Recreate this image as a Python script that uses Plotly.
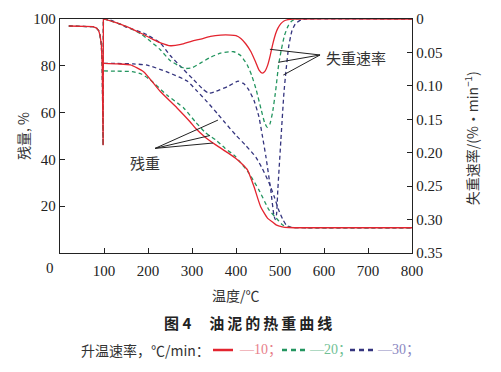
import plotly.graph_objects as go

# ---------------- data ----------------
# shared pre-heating segment (residual mass, %) -- same for all three runs
pre_T = [20, 60, 75, 83, 88, 91, 94, 96, 97.2, 98.0, 98.6]
pre_L = [97, 96.9, 96.7, 96.1, 95, 93, 89, 80, 62, 46, 100]

# residual mass (TG), %
red_tg_T = [99.5, 130, 160, 190, 228, 266, 296, 308, 330, 354, 380, 399, 415, 426,
            441, 456, 472, 483, 491, 505, 520, 560, 650, 800]
red_tg = [81, 80.8, 80.4, 77.5, 69, 62, 56, 53.3, 49.5, 46.2, 43, 40.5, 37.8, 35.5,
          28.3, 19.8, 14.8, 13.2, 12, 11.2, 10.9, 10.8, 10.8, 10.8]

green_tg_T = [99.5, 130, 164, 185, 205, 243, 281, 308, 330, 354, 375, 399, 429, 452,
              475, 491, 506, 520, 560, 800]
green_tg = [77.8, 77.7, 77.5, 76.5, 74, 67.5, 62, 56, 51.5, 48.3, 44.8, 41.2, 34.2, 27,
            18.4, 15, 12, 11, 10.8, 10.8]

blue_tg_T = [99.5, 130, 167, 198, 243, 289, 310, 335, 358, 376, 399, 422, 445, 460,
             475, 487, 497, 506, 514, 525, 560, 800]
blue_tg = [81, 81, 80.8, 80.3, 77.4, 73.5, 69.5, 64.5, 59.5, 55.5, 50.5, 46, 41, 36,
           30, 24, 18.4, 14.5, 12, 11, 10.8, 10.8]

# weight-loss rate (DTG), %/min
red_dtg_T = [99.5, 120, 150, 183, 210, 230, 251, 275, 300, 320, 342, 365, 388, 400, 411,
             422, 434, 445, 452, 460, 466, 472, 478, 483, 490, 495, 502, 509, 518, 530, 800]
red_dtg = [0, 0.004, 0.011, 0.021, 0.030, 0.036, 0.040, 0.038, 0.033, 0.030, 0.026, 0.024,
           0.024, 0.025, 0.029, 0.037, 0.049, 0.065, 0.076, 0.081, 0.078, 0.069, 0.054,
           0.039, 0.022, 0.014, 0.007, 0.003, 0.001, 0, 0]

green_dtg_T = [99.5, 120, 150, 183, 205, 228, 250, 273, 285, 300, 319, 340, 365, 395, 411,
               425, 436, 446, 457, 465, 471, 477, 483, 490, 497, 503, 510, 518, 525, 535, 800]
green_dtg = [0, 0.004, 0.011, 0.022, 0.033, 0.046, 0.062, 0.071, 0.074, 0.073, 0.066, 0.058,
             0.051, 0.049, 0.055, 0.068, 0.085, 0.106, 0.135, 0.155, 0.162, 0.157, 0.140,
             0.108, 0.068, 0.046, 0.025, 0.011, 0.004, 0, 0]

blue_dtg_T = [99.5, 114, 150, 190, 228, 251, 274, 304, 325, 338, 355, 381, 405, 418, 429,
              441, 452, 460, 468, 479, 486, 489, 492, 495, 502, 509, 514, 520, 527, 535,
              548, 560, 800]
blue_dtg = [0, 0.0015, 0.012, 0.021, 0.036, 0.055, 0.071, 0.091, 0.105, 0.111, 0.108,
            0.101, 0.093, 0.097, 0.106, 0.122, 0.146, 0.175, 0.206, 0.256, 0.293, 0.300,
            0.293, 0.256, 0.181, 0.110, 0.075, 0.040, 0.018, 0.007, 0.001, 0, 0]

x_ticks = [100, 200, 300, 400, 500, 600, 700, 800]
y_ticks = [20, 40, 60, 80, 100]
y2_ticks = [0, 0.05, 0.10, 0.15, 0.20, 0.25, 0.30, 0.35]
y2_ticktext = ["0", "0.05", "0.10", "0.15", "0.20", "0.25", "0.30", "0.35"]

rates = ["10", "20", "30"]

# ---------------- styling ----------------
RED, GREEN, BLUE = "#e3242f", "#23955f", "#34347e"
RED_T, GREEN_T, BLUE_T = "#e8808a", "#72bf95", "#8c88c2"
SERIF = "Liberation Serif, Noto Sans CJK SC, serif"
CJK = "Noto Sans CJK SC, sans-serif"
DASH = "4px,3px"
LW = 1.3

series = [
    (BLUE, DASH, blue_tg_T, blue_tg, blue_dtg_T, blue_dtg),
    (GREEN, DASH, green_tg_T, green_tg, green_dtg_T, green_dtg),
    (RED, "solid", red_tg_T, red_tg, red_dtg_T, red_dtg),
]

fig = go.Figure()
for color, dash, tT, tv, dT, dv in series:
    fig.add_trace(go.Scatter(x=pre_T, y=pre_L, mode="lines", yaxis="y",
                             line=dict(color=color, width=LW, dash=dash),
                             showlegend=False, hoverinfo="skip"))
    fig.add_trace(go.Scatter(x=tT, y=tv, mode="lines", yaxis="y",
                             line=dict(color=color, width=LW, dash=dash,
                                       shape="spline", smoothing=0.5),
                             showlegend=False))
    fig.add_trace(go.Scatter(x=dT, y=dv, mode="lines", yaxis="y2",
                             line=dict(color=color, width=LW, dash=dash,
                                       shape="spline", smoothing=0.5),
                             showlegend=False))

AX = "#222222"
# page body has an 8px margin -> shrink figure and margins by 8px to compensate
fig.update_layout(
    width=493, height=364,
    margin=dict(l=52, r=89, t=11, b=119),
    paper_bgcolor="white", plot_bgcolor="white",
    font=dict(family=SERIF, size=15, color="#222"),
    showlegend=False,
    xaxis=dict(range=[0, 800], tickvals=x_ticks, ticks="inside", ticklen=5,
               tickwidth=1, tickcolor=AX, showline=True, linecolor=AX, linewidth=1.3,
               mirror=True, showgrid=False, zeroline=False, automargin=False,
               tickfont=dict(family=SERIF, size=15, color="#222"),
               ticklabelstandoff=4),
    yaxis=dict(range=[0, 100], tickvals=y_ticks, ticks="inside", ticklen=5,
               tickwidth=1, tickcolor=AX, showline=True, linecolor=AX, linewidth=1.3,
               showgrid=False, zeroline=False, automargin=False,
               tickfont=dict(family=SERIF, size=15, color="#222")),
    yaxis2=dict(range=[0.35, 0], overlaying="y", side="right", tickvals=y2_ticks,
                ticktext=y2_ticktext, ticks="inside", ticklen=5, tickwidth=1,
                tickcolor=AX, showline=True, linecolor=AX, linewidth=1.3,
                showgrid=False, zeroline=False, automargin=False,
                tickfont=dict(family=SERIF, size=15, color="#222")),
)

# ---------------- annotations ----------------
ann = []
# origin "0"
ann.append(dict(x=-10 / 352, y=-15 / 234, xref="paper", yref="paper", text="0",
                showarrow=False, xanchor="center", yanchor="middle",
                font=dict(family=SERIF, size=15, color="#222")))
# axis titles
ann.append(dict(x=-37 / 352, y=0.5, xref="paper", yref="paper", text="残量, %",
                textangle=-90, showarrow=False, xanchor="center", yanchor="middle",
                font=dict(family=CJK, size=14, color="#333")))
ann.append(dict(x=(471 - 60) / 352, y=0.49, xref="paper", yref="paper",
                text="失重速率/(%·min<sup>−1</sup>)",
                textangle=-90, showarrow=False, xanchor="center", yanchor="middle",
                font=dict(family=CJK, size=14, color="#333")))
ann.append(dict(x=(236 - 60) / 352, y=-(295 - 253) / 234, xref="paper", yref="paper",
                text="温度/℃", showarrow=False, xanchor="center", yanchor="middle",
                font=dict(family=CJK, size=14, color="#333")))
# caption
ann.append(dict(x=(248 - 60) / 352, y=-(322 - 253) / 234, xref="paper", yref="paper",
                text="<b>图 4　\u2009油\u2009泥\u2009的\u2009热\u2009重\u2009曲\u2009线</b>",
                showarrow=False, xanchor="center", yanchor="middle",
                font=dict(family=CJK, size=15, color="#222")))
# legend row
LEG_Y = -(350 - 253) / 234
ann.append(dict(x=(79 - 60) / 352, y=LEG_Y, xref="paper", yref="paper",
                text="升温速率，℃/min：", showarrow=False, xanchor="left",
                yanchor="middle", font=dict(family=CJK, size=14, color="#333")))
leg_items = [(RED, "solid", 213, 233, 237, RED_T, rates[0]),
             (GREEN, "dash", 282, 305, 307, GREEN_T, rates[1]),
             (BLUE, "dash", 350, 373, 375, BLUE_T, rates[2])]
shapes = []
for col, dsh, x0, x1, xt, tcol, lab in leg_items:
    shapes.append(dict(type="line", xref="paper", yref="paper",
                       x0=(x0 - 60) / 352, x1=(x1 - 60) / 352, y0=LEG_Y, y1=LEG_Y,
                       line=dict(color=col, width=2.5,
                                 dash="solid" if dsh == "solid" else "5px,4px")))
    ann.append(dict(x=(xt - 60) / 352, y=LEG_Y, xref="paper", yref="paper",
                    text="—" + lab + "；", showarrow=False, xanchor="left",
                    yanchor="middle", font=dict(family=SERIF, size=14, color=tcol)))

# curve labels
ann.append(dict(x=193, y=38.5, xref="x", yref="y", text="残重", showarrow=False,
                font=dict(family=CJK, size=15, color="#333")))
ann.append(dict(x=673, y=0.058, xref="x", yref="y2", text="失重速率", showarrow=False,
                font=dict(family=CJK, size=15, color="#333")))
for ex, ey in [(359, 56.8), (341, 50.2), (348, 47)]:
    shapes.append(dict(type="line", xref="x", yref="y", x0=216, y0=44.7, x1=ex, y1=ey,
                       line=dict(color="#222", width=1)))
for ex, ey in [(477, 0.0453), (496, 0.0648), (507.5, 0.0838)]:
    shapes.append(dict(type="line", xref="x", yref="y2", x0=591, y0=0.0538, x1=ex, y1=ey,
                       line=dict(color="#222", width=1)))

fig.update_layout(annotations=ann, shapes=shapes)
fig.write_html("out.html")
